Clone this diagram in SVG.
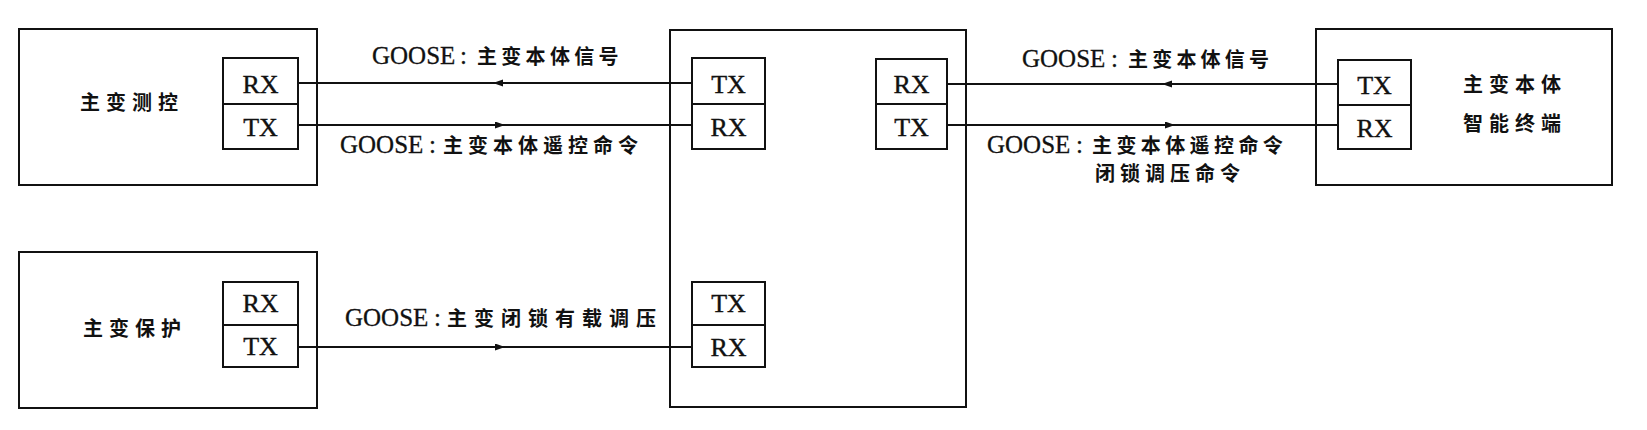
<svg xmlns="http://www.w3.org/2000/svg" width="1647" height="430" viewBox="0 0 1647 430">
<style>
.box{fill:none;stroke:#111;stroke-width:2}
.port{fill:#fff;stroke:#111;stroke-width:2}
.div{stroke:#111;stroke-width:2}
.ln{fill:none;stroke:#111;stroke-width:1.8;marker-mid:url(#ah)}
.pt{font-family:"Liberation Serif",serif;font-size:26px;fill:#111;stroke:#111;stroke-width:0.4;text-anchor:middle}
.cn{font-family:"Noto Sans CJK SC",sans-serif;font-size:20px;font-weight:bold;fill:#111}
.lat{font-family:"Liberation Serif",serif;font-size:25px;fill:#111;stroke:#111;stroke-width:0.3}
</style>
<defs>
<marker id="ah" markerWidth="10" markerHeight="8" refX="5" refY="3.5" orient="auto" markerUnits="userSpaceOnUse">
<path d="M0,0 L10,3.5 L0,7 z" fill="#111"/>
</marker>
</defs>
<rect width="1647" height="430" fill="#fff"/>

<g id="connectors">
<path class="ln" d="M692,83 L498,83 L298,83"/>
<path class="ln" d="M298,125 L500,125 L692,125"/>
<path class="ln" d="M1338,84 L1167,84 L947,84"/>
<path class="ln" d="M947,125 L1170,125 L1338,125"/>
<path class="ln" d="M298,347 L500,347 L692,347"/>
<text y="64"><tspan class="lat" x="372">GOOSE</tspan><tspan class="lat" x="460">:</tspan><tspan class="cn" x="477" letter-spacing="4.3">主变本体信号</tspan></text>
<text y="153"><tspan class="lat" x="340">GOOSE</tspan><tspan class="lat" x="429">:</tspan><tspan class="cn" x="443" letter-spacing="5">主变本体遥控命令</tspan></text>
<text y="67"><tspan class="lat" x="1022">GOOSE</tspan><tspan class="lat" x="1111">:</tspan><tspan class="cn" x="1128" letter-spacing="4.2">主变本体信号</tspan></text>
<text y="153"><tspan class="lat" x="987">GOOSE</tspan><tspan class="lat" x="1076">:</tspan><tspan class="cn" x="1092" letter-spacing="4.4">主变本体遥控命令</tspan></text>
<text class="cn" x="1095" y="181" letter-spacing="5">闭锁调压命令</text>
<text y="326"><tspan class="lat" x="345">GOOSE</tspan><tspan class="lat" x="434">:</tspan><tspan class="cn" x="447" letter-spacing="7">主变闭锁有载调压</tspan></text>
</g>

<g id="node-measure">
<rect class="box" x="19" y="29" width="298" height="156"/>
<text class="cn" x="80" y="110" letter-spacing="6">主变测控</text>
<rect class="port" x="223" y="58" width="75" height="91"/>
<line class="div" x1="223" y1="104" x2="298" y2="104"/>
<text class="pt" x="260.5" y="93">RX</text>
<text class="pt" x="260.5" y="136">TX</text>
</g>

<g id="node-protection">
<rect class="box" x="19" y="252" width="298" height="156"/>
<text class="cn" x="83" y="336" letter-spacing="6">主变保护</text>
<rect class="port" x="223" y="282" width="75" height="85"/>
<line class="div" x1="223" y1="325" x2="298" y2="325"/>
<text class="pt" x="260.5" y="312">RX</text>
<text class="pt" x="260.5" y="355">TX</text>
</g>

<g id="node-center">
<rect class="box" x="670" y="30" width="296" height="377"/>
<rect class="port" x="692" y="58" width="73" height="91"/>
<line class="div" x1="692" y1="104" x2="765" y2="104"/>
<text class="pt" x="728.5" y="93">TX</text>
<text class="pt" x="728.5" y="136">RX</text>
<rect class="port" x="876" y="59" width="71" height="90"/>
<line class="div" x1="876" y1="104" x2="947" y2="104"/>
<text class="pt" x="911.5" y="93">RX</text>
<text class="pt" x="911.5" y="136">TX</text>
<rect class="port" x="692" y="282" width="73" height="85"/>
<line class="div" x1="692" y1="325" x2="765" y2="325"/>
<text class="pt" x="728.5" y="312">TX</text>
<text class="pt" x="728.5" y="356">RX</text>
</g>

<g id="node-terminal">
<rect class="box" x="1316" y="29" width="296" height="156"/>
<rect class="port" x="1338" y="60" width="73" height="89"/>
<line class="div" x1="1338" y1="105" x2="1411" y2="105"/>
<text class="pt" x="1374.5" y="94">TX</text>
<text class="pt" x="1374.5" y="137">RX</text>
<text class="cn" x="1463" y="92" letter-spacing="6">主变本体</text>
<text class="cn" x="1463" y="131" letter-spacing="6">智能终端</text>
</g>
</svg>
